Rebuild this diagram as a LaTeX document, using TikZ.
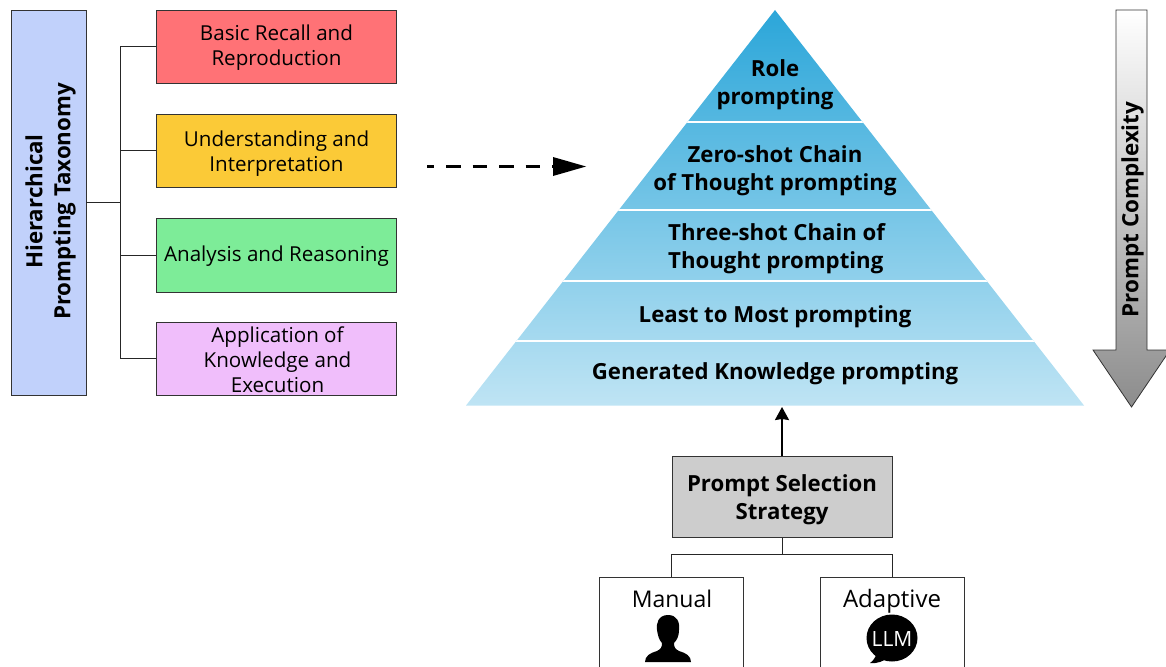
\documentclass[tikz,border=0pt]{standalone}
\usepackage{fontspec}
\setmainfont{Open Sans}
\usetikzlibrary{arrows.meta,calc}
\definecolor{edgeg}{HTML}{333333}
\definecolor{rootb}{HTML}{C1D1FB}
\definecolor{redb}{HTML}{FF7276}
\definecolor{yelb}{HTML}{FBCA37}
\definecolor{greb}{HTML}{7DEC98}
\definecolor{purb}{HTML}{F0BEFB}
\definecolor{pyrt}{HTML}{2BA6D9}
\definecolor{pyrb}{HTML}{BFE4F4}
\definecolor{selg}{HTML}{CDCDCD}
\tikzset{
  catbox/.style={draw=edgeg,line width=0.9pt,minimum width=240pt,minimum height=73pt,inner sep=0pt},
  cattext/.style={align=center,inner sep=0pt,font=\fontsize{20.6}{25}\selectfont},
  tier/.style={align=center,inner sep=0pt,font=\fontsize{22.2}{28}\selectfont\bfseries},
  link/.style={draw=black!85,line width=1pt},
  choice/.style={draw=edgeg,line width=0.9pt,fill=white,minimum width=144pt,minimum height=100pt,inner sep=0pt},
  choicetext/.style={inner sep=0pt,anchor=base,font=\fontsize{23}{25}\selectfont},
}
\begin{document}
\begin{tikzpicture}[x=1pt,y=-1pt]
\useasboundingbox (0,0) rectangle (1166,666);
\clip (0,0) rectangle (1166,666);
% left taxonomy
\node[draw=edgeg,line width=0.9pt,fill=rootb,minimum width=75pt,minimum height=385pt,inner sep=0pt] (root) at (48.5,202.5) {};
\node[rotate=90,align=center,inner sep=0pt,font=\fontsize{22.3}{28}\selectfont\bfseries] (roott) at (50.5,201.5) {Hierarchical\\Prompting Taxonomy};
\node[catbox,fill=redb] (c1) at (276.5,46.5) {};
\node[catbox,fill=yelb] (c2) at (276.5,150.5) {};
\node[catbox,fill=greb,minimum height=74pt] (c3) at (276.5,255) {};
\node[catbox,fill=purb] (c4) at (276.5,358.5) {};
\node[cattext] (c1t) at (276.5,47.5) {Basic Recall and\\Reproduction};
\node[cattext] (c2t) at (276.5,153.5) {Understanding and\\Interpretation};
\node[cattext] (c3t) at (276.5,256) {Analysis and Reasoning};
\node[cattext] (c4t) at (277.5,359.5) {Application of\\Knowledge and\\Execution};
\coordinate (trunk) at (120,202);
\draw[link] (root.east|-trunk) -- (trunk);
\draw[link] (c1.west) -| (trunk);
\draw[link] (c2.west) -| (trunk);
\draw[link] (c3.west) -| (trunk);
\draw[link] (c4.west) -| (trunk);
% dashed arrow
\coordinate (dashs) at (427,166.5);
\coordinate (dashe) at (553,166.5);
\coordinate (dasht) at (586,166.5);
\draw[black,line width=3pt,dash pattern=on 14.3pt off 12.2pt,dash phase=7.3pt] (dashs) -- (dashe);
\fill[black] (553,157) -- (dasht) -- (553,176) -- cycle;
% pyramid
\begin{scope}
\clip (775,10) -- (1084,405.5) -- (466,405.5) -- cycle;
\shade[top color=pyrt,bottom color=pyrb] (460,10) rectangle (1090,406);
\foreach \yy in {122,210,281,341} \fill[white] (460,\yy-1.3) rectangle (1090,\yy+1.3);
\end{scope}
\coordinate (pyrbase) at (782,407);
\node[tier] (t1) at (775,85) {Role\\prompting};
\node[tier] (t2) at (775,170.5) {Zero-shot Chain\\of Thought prompting};
\node[tier,align=left,anchor=west] (t3) at (668,249) {Three-shot Chain of\\Thought prompting};
\node[tier] (t4) at (775,317) {Least to Most prompting};
\node[tier] (t5) at (775,374) {Generated Knowledge prompting};
% complexity arrow
\shade[top color=white,bottom color=black!45,draw=edgeg,line width=0.8pt]
 (1116,10) -- (1147,10) -- (1147,350) -- (1170,350) -- (1131.5,407) -- (1093,350) -- (1116,350) -- cycle;
\node[rotate=90,inner sep=0pt,font=\fontsize{22.4}{25}\selectfont\bfseries] (pc) at (1132.5,209.5) {Prompt Complexity};
% selection
\node[draw=edgeg,line width=0.9pt,fill=selg,minimum width=220pt,minimum height=81pt,inner sep=0pt] (sel) at (782,497) {};
\node[align=center,inner sep=0pt,font=\fontsize{22.2}{28}\selectfont\bfseries] (selt) at (782,500) {Prompt Selection\\Strategy};
\draw[-{Stealth[length=13pt,width=14pt,inset=1pt]},black,line width=2pt] (sel.north) -- (pyrbase);
\node[choice] (man) at (671,627) {};
\node[choice] (ada) at (892.5,627) {};
\coordinate (fork) at (782,554);
\draw[link] (sel.south) -- (fork);
\draw[link] (man.north) |- (fork);
\draw[link] (ada.north) |- (fork);
\node[choicetext] (mant) at (672,607) {Manual};
\node[choicetext,font=\fontsize{24}{25}\selectfont] (adat) at (892,607) {Adaptive};
% person icon
\fill[black] (668,615) .. controls (658,615) and (656,624) .. (657,630)
 .. controls (658,636) and (659,640) .. (662,643)
 .. controls (662,647) and (661,649) .. (657,651)
 .. controls (650,653) and (645,656) .. (645,662) -- (691,662)
 .. controls (691,656) and (686,653) .. (679,651)
 .. controls (675,649) and (674,647) .. (674,643)
 .. controls (677,640) and (679,636) .. (679,630)
 .. controls (680,622) and (677,615) .. (668,615) -- cycle;
% speech bubble
\fill[black] (892,638) ellipse [x radius=25.5pt,y radius=23.5pt];
\fill[black] (877,652) .. controls (876,657) and (873,661) .. (870,663) .. controls (877,664) and (884,661) .. (889,657) -- cycle;
\node[inner sep=0pt,text=white,font=\fontsize{21}{22}\selectfont] (llm) at (892,639) {LLM};
\end{tikzpicture}
\end{document}
